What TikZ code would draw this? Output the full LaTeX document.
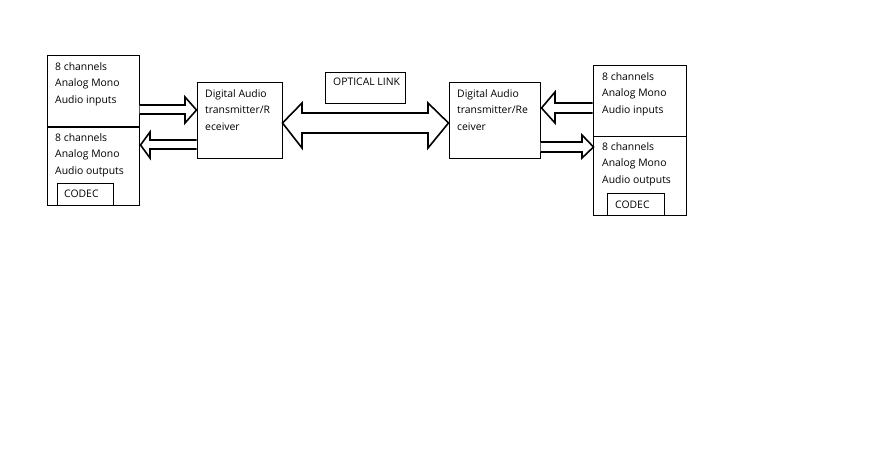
\documentclass[tikz,border=0pt]{standalone}
\usepackage{fontspec}
\setmainfont{Open Sans}
\begin{document}
\begin{tikzpicture}[x=1pt,y=-1pt,
  box/.style={draw,line width=1pt,inner sep=0pt},
  lbl/.style={anchor=west,inner sep=0pt,align=left,font=\fontsize{10.4}{16.5}\selectfont},
  fat/.style={draw,line width=1.6pt,fill=white,line join=miter}]
\useasboundingbox (0,0) rectangle (872,448);
% left module
\node[box,minimum width=92pt,minimum height=71pt] (inL) at (93,90.5) {};
\node[box,minimum width=92pt,minimum height=79pt] (outL) at (93,165.5) {};
\draw[line width=2pt] (inL.south west) -- (inL.south east);
\node[box,minimum width=56pt,minimum height=22pt] (codecL) at (85,194) {};
\node[lbl] (tInL) at (55,84) {8 channels\\Analog Mono\\Audio inputs};
\node[lbl] (tOutL) at (55,155) {8 channels\\Analog Mono\\Audio outputs};
\node[lbl] (tCodecL) at (64,194) {CODEC};
% left transceiver
\node[box,minimum width=85pt,minimum height=76pt] (trxL) at (239.5,120) {};
\node[lbl] (tTrxL) at (205,110) {Digital Audio\\transmitter/R\\eceiver};
% optical link
\node[box,minimum width=80pt,minimum height=31pt] (opt) at (365,87.5) {};
\node[lbl] (tOpt) at (333,82) {OPTICAL LINK};
% right transceiver
\node[box,minimum width=91pt,minimum height=76pt] (trxR) at (494.5,120) {};
\node[lbl] (tTrxR) at (457,110) {Digital Audio\\transmitter/Re\\ceiver};
% right module
\node[box,minimum width=93pt,minimum height=71pt] (inR) at (639.5,100.5) {};
\node[box,minimum width=93pt,minimum height=79pt] (outR) at (639.5,175.5) {};
\node[box,minimum width=57pt,minimum height=22pt] (codecR) at (635.5,204) {};
\node[lbl] (tInR) at (602,94) {8 channels\\Analog Mono\\Audio inputs};
\node[lbl] (tOutR) at (602,164) {8 channels\\Analog Mono\\Audio outputs};
\node[lbl] (tCodecR) at (615,205) {CODEC};
% fat arrows left
\draw[fat] (inL.east |- 0,105) -- (185,105) -- (185,97) -- (trxL.west |- 0,110) -- (185,123) -- (185,114) -- (inL.east |- 0,114);
\draw[fat] (trxL.west |- 0,140) -- (150,140) -- (150,132) -- ([xshift=1pt]outL.east |- 0,145) -- (150,158) -- (150,149) -- (trxL.west |- 0,149);
% optical double arrow
\draw[fat] (trxL.east |- 0,123) -- (302,103) -- (302,113) -- (428,113) -- (428,103) -- (trxR.west |- 0,123) -- (428,148) -- (428,133) -- (302,133) -- (302,148) -- cycle;
% fat arrows right
\draw[fat] (inR.west |- 0,103) -- (555,103) -- (555,92) -- ([xshift=1pt]trxR.east |- 0,108) -- (555,123) -- (555,113) -- (inR.west |- 0,113);
\draw[fat] (trxR.east |- 0,142) -- (582,142) -- (582,135) -- ([xshift=1pt]outR.west |- 0,147) -- (582,158) -- (582,152) -- (trxR.east |- 0,152);
\end{tikzpicture}
\end{document}
